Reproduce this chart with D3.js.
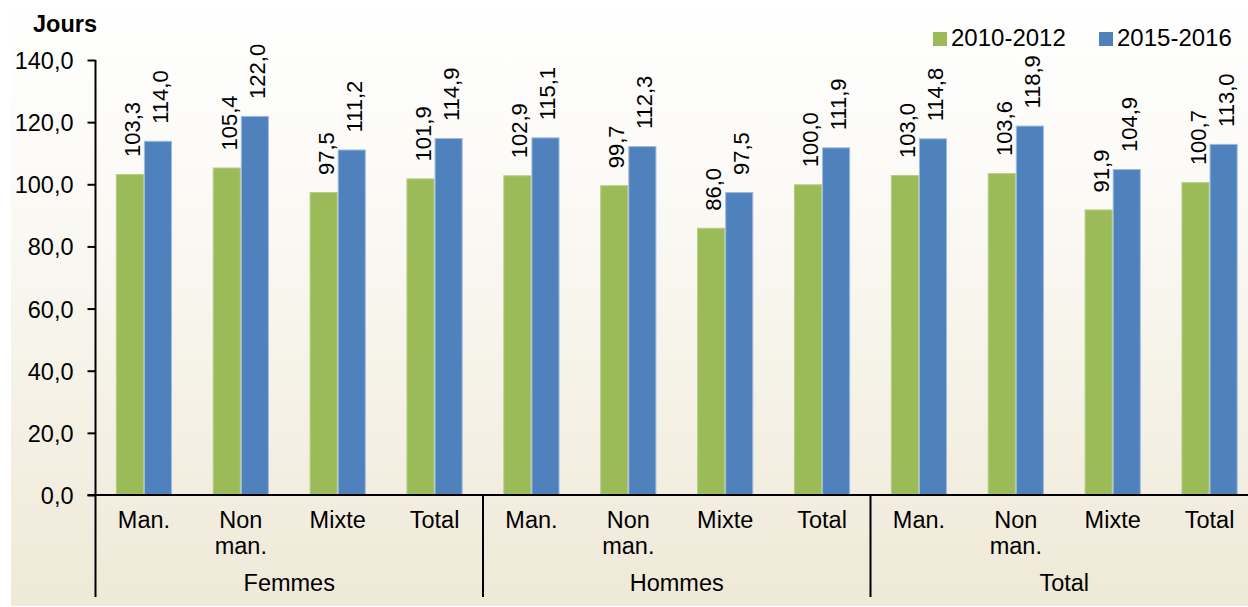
<!DOCTYPE html>
<html>
<head>
<meta charset="utf-8">
<script src="https://cdn.jsdelivr.net/npm/d3@7"></script>
<style>
  body { margin: 0; background: #fff; }
  text { font-family: "Liberation Sans", Arial, sans-serif; fill: #000; }
</style>
</head>
<body>
<div id="chart"></div>
<script>
// data
var groups = ["Femmes", "Hommes", "Total"];
var categories = ["Man.", "Non man.", "Mixte", "Total"];
var seriesNames = ["2010-2012", "2015-2016"];
var values2010 = [103.3, 105.4, 97.5, 101.9, 102.9, 99.7, 86.0, 100.0, 103.0, 103.6, 91.9, 100.7];
var values2015 = [114.0, 122.0, 111.2, 114.9, 115.1, 112.3, 97.5, 111.9, 114.8, 118.9, 104.9, 113.0];
var yTicks = [0, 20, 40, 60, 80, 100, 120, 140];
var colors = ["#9bbb59", "#4f81bd"];
var edgeColors = ["#b5cd85", "#9dbbe0"];

var width = 1248, height = 607;
var plotLeft = 95.5, plotRight = 1258, plotTop = 60, plotBottom = 495;

var fmt = function(v) { return v.toFixed(1).replace(".", ","); };

// one row per category slot
var rows = [];
groups.forEach(function(g, gi) {
    categories.forEach(function(c, ci) {
        var i = gi * categories.length + ci;
        rows.push({ key: g + "|" + c, group: g, cat: c, vals: [values2010[i], values2015[i]] });
    });
});

var svg = d3.select("#chart").append("svg")
    .attr("width", width)
    .attr("height", height);

var defs = svg.append("defs");
var grad = defs.append("linearGradient")
    .attr("id", "bg")
    .attr("x1", 0).attr("y1", 0).attr("x2", 0).attr("y2", 1);
grad.append("stop").attr("offset", "0%").attr("stop-color", "#ffffff");
grad.append("stop").attr("offset", "30%").attr("stop-color", "#fbfaf6");
grad.append("stop").attr("offset", "100%").attr("stop-color", "#efe9d7");

svg.append("rect")
    .attr("x", 11).attr("y", 0)
    .attr("width", width - 11).attr("height", 606)
    .attr("fill", "url(#bg)");

var xScale = d3.scaleBand()
    .domain(rows.map(function(d) { return d.key; }))
    .range([plotLeft, plotRight])
    .paddingInner(0.42)
    .paddingOuter(0.21);

var xSub = d3.scaleBand()
    .domain([0, 1])
    .range([0, xScale.bandwidth()]);

var yScale = d3.scaleLinear()
    .domain([0, 140])
    .range([plotBottom, plotTop]);

// bars
var slot = svg.selectAll(".slot")
    .data(rows)
    .enter().append("g")
    .attr("class", "slot")
    .attr("transform", function(d) { return "translate(" + xScale(d.key) + ",0)"; });

slot.selectAll("rect")
    .data(function(d) { return d.vals; })
    .enter().append("rect")
    .attr("x", function(d, i) { return xSub(i) + 0.5; })
    .attr("y", function(d) { return yScale(d) + 0.5; })
    .attr("width", xSub.bandwidth() - 1)
    .attr("height", function(d) { return yScale(0) - yScale(d) - 0.5; })
    .attr("fill", function(d, i) { return colors[i]; })
    .attr("stroke", function(d, i) { return edgeColors[i]; })
    .attr("stroke-width", 1);

// rotated value labels
slot.selectAll(".lbl")
    .data(function(d) { return d.vals; })
    .enter().append("text")
    .attr("class", "lbl")
    .attr("transform", function(d, i) {
        var cx = xSub(i) + xSub.bandwidth() / 2 + 10;
        return "translate(" + cx + "," + (yScale(d) - 17) + ") rotate(-90)";
    })
    .style("font-size", "22px")
    .text(fmt);

// y axis
var yAxis = d3.axisLeft(yScale)
    .tickValues(yTicks)
    .tickSize(8)
    .tickPadding(14)
    .tickFormat(fmt);

var gy = svg.append("g")
    .attr("transform", "translate(" + plotLeft + ",0)")
    .call(yAxis);
gy.select(".domain").remove();
gy.selectAll(".tick line").attr("stroke", "#000").attr("stroke-width", 2);
gy.selectAll(".tick text")
    .style("font-size", "23.5px")
    .attr("dy", "0.36em");

svg.append("line")
    .attr("x1", plotLeft).attr("x2", plotLeft)
    .attr("y1", plotTop).attr("y2", 597)
    .attr("stroke", "#000").attr("stroke-width", 2);

// x axis baseline
svg.append("line")
    .attr("x1", plotLeft - 8).attr("x2", plotRight)
    .attr("y1", plotBottom).attr("y2", plotBottom)
    .attr("stroke", "#000").attr("stroke-width", 2);

// category labels
var catLabel = svg.selectAll(".cat")
    .data(rows)
    .enter().append("text")
    .attr("class", "cat")
    .attr("text-anchor", "middle")
    .style("font-size", "23.5px")
    .attr("y", 527.5);

catLabel.selectAll("tspan")
    .data(function(d) { return d.cat.split(" ").map(function(w) { return { w: w, key: d.key }; }); })
    .enter().append("tspan")
    .attr("x", function(d) { return xScale(d.key) + xScale.bandwidth() / 2; })
    .attr("dy", function(d, i) { return i ? 26 : 0; })
    .text(function(d) { return d.w; });

// group separators and labels
var step = xScale.step();
groups.forEach(function(g, gi) {
    var x0 = plotLeft + gi * categories.length * step;
    var x1 = x0 + categories.length * step;
    if (gi > 0) {
        svg.append("line")
            .attr("x1", x0).attr("x2", x0)
            .attr("y1", plotBottom).attr("y2", 597)
            .attr("stroke", "#000").attr("stroke-width", 2);
    }
    svg.append("text")
        .attr("x", (x0 + x1) / 2)
        .attr("y", 590.5)
        .attr("text-anchor", "middle")
        .style("font-size", "23.5px")
        .text(g);
});

// title
svg.append("text")
    .attr("x", 33).attr("y", 32)
    .style("font-size", "23.5px")
    .style("font-weight", "bold")
    .text("Jours");

// legend
var legendX = [933, 1099];
var legend = svg.selectAll(".legend")
    .data(seriesNames)
    .enter().append("g")
    .attr("class", "legend")
    .attr("transform", function(d, i) { return "translate(" + legendX[i] + ",32)"; });
legend.append("rect")
    .attr("width", 14).attr("height", 14)
    .attr("fill", function(d, i) { return colors[i]; });
legend.append("text")
    .attr("x", 18).attr("y", 14)
    .style("font-size", "24px")
    .text(function(d) { return d; });
</script>
</body>
</html>
